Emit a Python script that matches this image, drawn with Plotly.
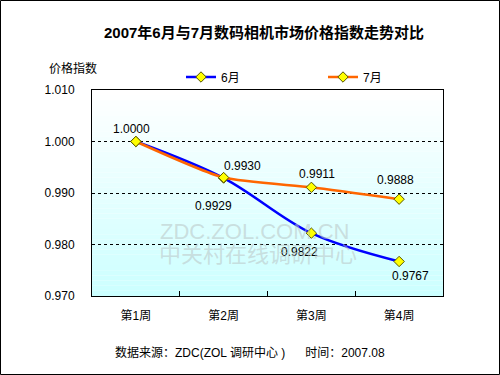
import plotly.graph_objects as go

title_text = "2007年6月与7月数码相机市场价格指数走势对比"
weeks = ["第1周", "第2周", "第3周", "第4周"]
june = [1.0000, 0.9929, 0.9822, 0.9767]
july = [1.0000, 0.9930, 0.9911, 0.9888]
series_names = ["6月", "7月"]
y_ticks = [0.970, 0.980, 0.990, 1.000, 1.010]
y_title = "价格指数"
footer = "数据来源：ZDC(ZOL 调研中心 )      时间：2007.08"

W, H = 500, 375
ML, MR, MT, MB = 92, 57, 90, 79
PW, PH = W - ML - MR, H - MT - MB

FONT = "Liberation Sans, Arial, Noto Sans CJK SC, sans-serif"
xs = list(range(1, len(weeks) + 1))

fig = go.Figure()
fig.add_trace(go.Scatter(
    x=xs, y=june, name=series_names[0], mode="lines+markers",
    line=dict(color="#0000FF", width=2.5, shape="spline", smoothing=1.0),
    marker=dict(symbol="diamond", size=8, color="#FFFF00", line=dict(color="#555500", width=1)),
))
fig.add_trace(go.Scatter(
    x=xs, y=july, name=series_names[1], mode="lines+markers",
    line=dict(color="#FF6600", width=2.5, shape="spline", smoothing=0.6),
    marker=dict(symbol="diamond", size=8, color="#FFFF00", line=dict(color="#555500", width=1)),
))

# gradient background bands (white top -> light cyan bottom)
n = 40
for i in range(n):
    t = i / (n - 1)
    r = int(round(255 - (255 - 0xCC) * t))
    fig.add_shape(type="rect", xref="x domain", yref="y domain",
                  x0=0, x1=1, y0=1 - (i + 1) / n, y1=1 - i / n,
                  fillcolor=f"rgb({r},255,255)", line=dict(width=0), layer="below")

# outer frame
fig.add_shape(type="rect", xref="paper", yref="paper",
              x0=(0.5 - ML) / PW, x1=(W - 0.5 - ML) / PW,
              y0=-(H - 0.5 - MT - PH) / PH, y1=1 + (MT - 0.5) / PH,
              line=dict(color="black", width=1), fillcolor="rgba(0,0,0,0)")

# data labels: (series values, index, xshift, yshift)
label_specs = [
    (june, 0, -4, 13),
    (july, 1, 19, 12),
    (june, 1, -10, -28),
    (july, 2, 6, 13),
    (june, 2, -12, -19),
    (july, 3, -4, 19),
    (june, 3, 11, -15),
]
for vals, i, dx, dy in label_specs:
    fig.add_annotation(x=xs[i], y=vals[i], xref="x", yref="y", text=f"{vals[i]:.4f}",
                       showarrow=False, xshift=dx, yshift=dy,
                       xanchor="center", yanchor="middle",
                       font=dict(family=FONT, size=12, color="black"))

# watermark
fig.add_annotation(x=(254 - ML) / PW, y=1 - (231 - MT) / PH, xref="paper", yref="paper",
                   text="ZDC.ZOL.COM.CN", showarrow=False, xanchor="center", yanchor="middle",
                   font=dict(family=FONT, size=22, color="rgba(185,195,195,0.55)"))
fig.add_annotation(x=(258 - ML) / PW, y=1 - (252 - MT) / PH, xref="paper", yref="paper",
                   text="中关村在线调研中心", showarrow=False, xanchor="center", yanchor="middle",
                   font=dict(family="Noto Sans CJK SC", size=22, color="rgba(185,195,195,0.55)"))

# y title
fig.add_annotation(x=(47 - ML) / PW, y=1 + (MT - 68) / PH, xref="paper", yref="paper",
                   text=y_title, showarrow=False, xanchor="left", yanchor="middle",
                   font=dict(family=FONT, size=12, color="black"))
# footer
fig.add_annotation(x=(250 - ML) / PW, y=-(352 - MT - PH) / PH, xref="paper", yref="paper",
                   text=footer, showarrow=False, xanchor="center", yanchor="middle",
                   font=dict(family=FONT, size=12, color="black"))

fig.update_layout(
    width=W, height=H,
    margin=dict(l=ML, r=MR, t=MT, b=MB),
    paper_bgcolor="white", plot_bgcolor="white",
    font=dict(family=FONT, size=12, color="black"),
    title=dict(text=title_text, x=264 / W, xanchor="center", y=1 - 33 / H, yanchor="middle",
               font=dict(family=FONT, size=15, color="black", weight="bold")),
    showlegend=True,
    legend=dict(orientation="h", x=(181 - ML) / PW, xanchor="left",
                y=1 + (MT - 77) / PH, yanchor="middle", entrywidth=97,
                bgcolor="rgba(0,0,0,0)", font=dict(family=FONT, size=12)),
    xaxis=dict(range=[0.5, len(weeks) + 0.5], tickvals=xs, ticktext=weeks, ticks="",
               showgrid=False, zeroline=False, showline=True, linecolor="black",
               linewidth=1, mirror=True, ticklabelstandoff=9,
               minor=dict(tickvals=[1.5, 2.5, 3.5], ticks="inside", ticklen=5,
                          tickcolor="black", showgrid=False),
               fixedrange=True),
    yaxis=dict(range=[y_ticks[0], y_ticks[-1]], tickvals=y_ticks,
               ticktext=[f"{v:.3f}" for v in y_ticks], ticks="",
               showgrid=True, gridcolor="black", griddash="3px,3px", gridwidth=1,
               zeroline=False, showline=True, linecolor="black", linewidth=1, mirror=True,
               ticklabelstandoff=14, fixedrange=True),
)

fig.write_html("out.html", config={"displayModeBar": False},
               post_script="document.body.style.margin='0';")
